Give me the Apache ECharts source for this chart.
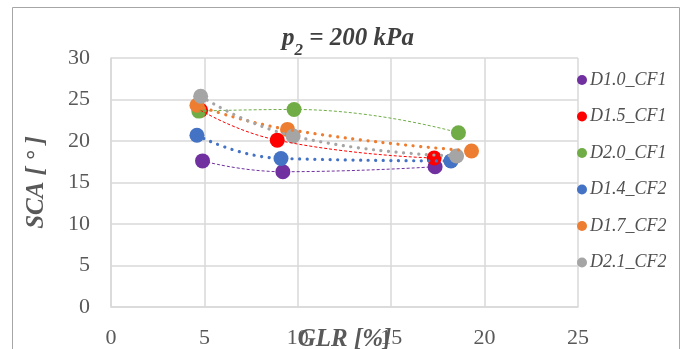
<!DOCTYPE html>
<html>
<head>
<meta charset="utf-8">
<script src="https://cdn.jsdelivr.net/npm/echarts@6/dist/echarts.min.js"></script>
<style>
  html, body { margin: 0; padding: 0; background: #fff; }
  #chart { width: 686px; height: 349px; }
</style>
</head>
<body>
<div id="chart"></div>
<script>
// GLR [%], SCA [deg]
const names = ['D1.0_CF1', 'D1.5_CF1', 'D2.0_CF1', 'D1.4_CF2', 'D1.7_CF2', 'D2.1_CF2']
const colors = ['#7030a0', '#ff0000', '#70ad47', '#4472c4', '#ed7d31', '#a5a5a5']
const d10cf1 = [[4.9, 17.6], [9.2, 16.3], [17.35, 16.9]]
const d15cf1 = [[4.8, 23.7], [8.9, 20.1], [17.3, 17.95]]
const d20cf1 = [[4.7, 23.6], [9.8, 23.8], [18.6, 21.0]]
const d14cf2 = [[4.6, 20.7], [9.1, 17.9], [18.2, 17.6]]
const d17cf2 = [[4.6, 24.3], [9.45, 21.4], [19.3, 18.8]]
const d21cf2 = [[4.8, 25.4], [9.75, 20.6], [18.5, 18.2]]
const allData = [d10cf1, d15cf1, d20cf1, d14cf2, d17cf2, d21cf2]

const serif = '"Liberation Serif", "DejaVu Serif", serif'

const chart = echarts.init(document.getElementById('chart'))

const scatter = names.map((n, i) => ({
  name: n,
  type: 'scatter',
  symbol: 'circle',
  symbolSize: 15,
  itemStyle: { color: colors[i], opacity: 1 },
  data: allData[i],
  z: 2
}))

// trend lines, dashed for CF1 and round dots for CF2
const trends = names.map((n, i) => ({
  name: n + ' trend',
  type: 'line',
  smooth: 0.5,
  showSymbol: false,
  symbol: 'none',
  silent: true,
  lineStyle: i < 3
    ? { color: colors[i], width: 1, type: [3, 2] }
    : { color: colors[i], width: 3.2, type: [0.1, 7.5], cap: 'round' },
  data: allData[i],
  z: 3
}))

const option = {
  backgroundColor: '#fff',
  animation: false,
  title: {
    text: '{p|p}{s|2}{p| = 200 kPa}',
    left: 343,
    textAlign: 'center',
    top: 21,
    textStyle: {
      rich: {
        p: { fontFamily: serif, fontSize: 25, fontWeight: 'bold', fontStyle: 'italic', color: '#404040' },
        s: { fontFamily: serif, fontSize: 17, fontWeight: 'bold', fontStyle: 'italic', color: '#404040', verticalAlign: 'bottom', padding: [0, 0, -8, 0] }
      }
    }
  },
  legend: {
    data: names,
    orient: 'vertical',
    left: 572,
    top: 66,
    itemWidth: 10,
    itemHeight: 10,
    itemGap: 18.5,
    icon: 'circle',
    textStyle: { fontFamily: serif, fontStyle: 'italic', fontSize: 18, color: '#505050', padding: [0, 0, 0, -2] }
  },
  grid: { left: 111, right: 108, top: 58, bottom: 42, outerBoundsMode: 'none' },
  xAxis: {
    type: 'value',
    min: 0,
    max: 25,
    interval: 5,
    name: 'GLR [%]',
    nameLocation: 'middle',
    nameGap: 20,
    nameMoveOverlap: false,
    nameTextStyle: { fontFamily: serif, fontStyle: 'italic', fontWeight: 'bold', fontSize: 25, color: '#595959' },
    axisLine: { show: true, lineStyle: { color: '#d9d9d9', width: 1.5 } },
    axisTick: { show: false },
    axisLabel: { fontFamily: serif, fontSize: 22, color: '#595959', margin: 20 },
    splitLine: { show: true, lineStyle: { color: '#d9d9d9', width: 1.5 } }
  },
  yAxis: {
    type: 'value',
    min: 0,
    max: 30,
    interval: 5,
    name: 'SCA [ ° ]',
    nameLocation: 'middle',
    nameRotate: 90,
    nameGap: 62,
    nameMoveOverlap: false,
    nameTextStyle: { fontFamily: serif, fontStyle: 'italic', fontWeight: 'bold', fontSize: 25, color: '#595959' },
    axisLine: { show: true, lineStyle: { color: '#d9d9d9', width: 1.5 } },
    axisTick: { show: false },
    axisLabel: { fontFamily: serif, fontSize: 22, color: '#595959', margin: 21 },
    splitLine: { show: true, lineStyle: { color: '#d9d9d9', width: 1.5 } }
  },
  graphic: [{
    type: 'rect',
    shape: { x: 12.5, y: 7.5, width: 667, height: 360 },
    style: { fill: null, stroke: '#a6a6a6', lineWidth: 1 },
    silent: true,
    z: -1
  }],
  series: scatter.concat(trends)
}

chart.setOption(option)
</script>
</body>
</html>
